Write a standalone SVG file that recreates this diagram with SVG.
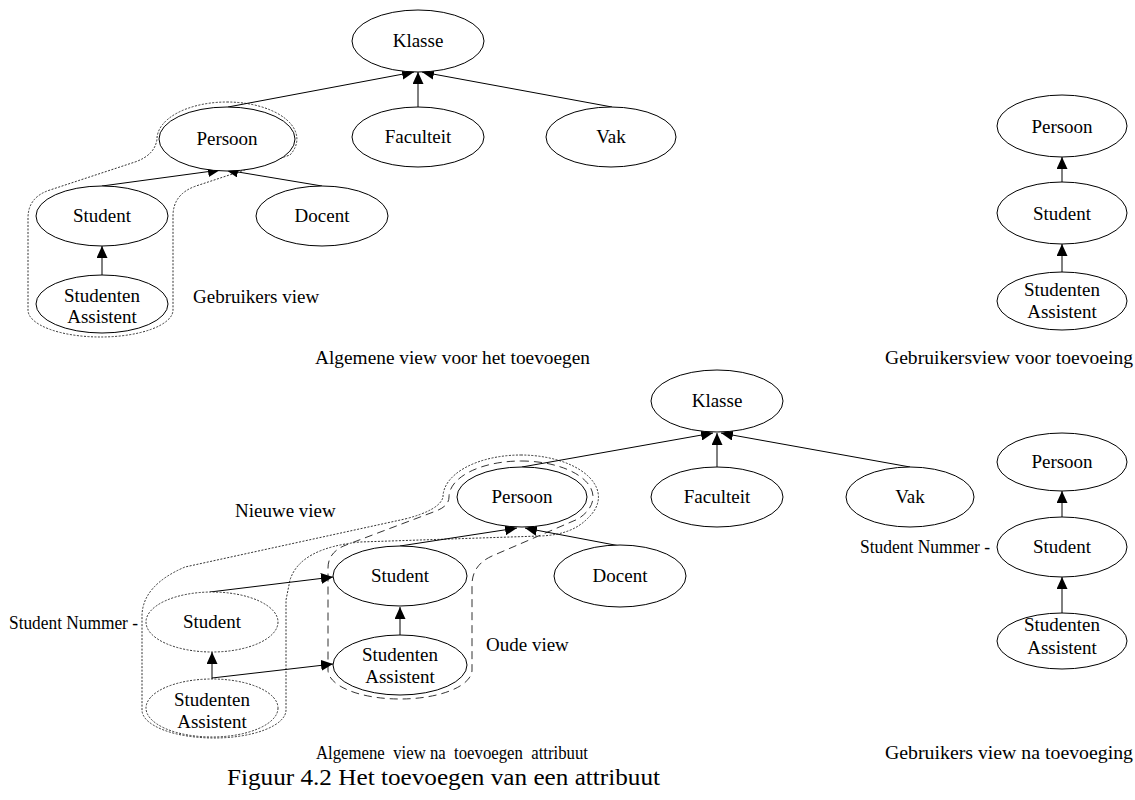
<svg xmlns="http://www.w3.org/2000/svg" width="1135" height="800" viewBox="0 0 1135 800">
  <style>
    .n ellipse { fill: #fff; stroke: #000; stroke-width: 1; }
    .n.dot ellipse { stroke-dasharray: 2 1.5; stroke: #333; }
    text { font-family: "Liberation Serif", "Times New Roman", serif; font-size: 19px; fill: #000; }
    .n text { text-anchor: middle; }
    .edge { stroke: #000; stroke-width: 1; fill: none; marker-end: url(#tri); }
    .dotline { fill: none; stroke: #333; stroke-width: 1; stroke-dasharray: 2 1.5; }
    .dashline { fill: none; stroke: #333; stroke-width: 1; stroke-dasharray: 8 5; }
    .cap { font-size: 19px; }
    .title { font-size: 24px; }
  </style>
  <defs>
    <marker id="tri" markerUnits="userSpaceOnUse" markerWidth="12" markerHeight="11" refX="12" refY="5.5" orient="auto">
      <path d="M0,0 L12,5.5 L0,11 Z" fill="#000"/>
    </marker>
  </defs>
  <rect width="1135" height="800" fill="#fff"/>

  <!-- view outlines (upper general view) -->
  <g id="outline-gebruikers-view">
    <path class="dotline" d="M227,102 A70,37 0 0 1 290,155 L196,186 Q173,194 173,216 L173,310 A72.5,27 0 0 1 28,310 L28,218 Q28,197 50,190 L135,162 Q155,155 157,139 A70,37 0 0 1 227,102 Z"/>
  </g>

  <!-- view outlines (lower general view) -->
  <g id="outline-nieuwe-view">
    <path class="dotline" d="M521,455 A78,42 0 0 1 588,518 Q572,535 540,536 L360,542 Q300,548 290,580 L286,600 L286,710 A72,28 0 0 1 142,710 L142,615 Q143,585 185,567 L405,519 Q440,510 443,497 A78,42 0 0 1 521,455 Z"/>
  </g>
  <g id="outline-oude-view">
    <path class="dashline" d="M521,461 A72,36 0 0 1 578,519 L492,556 Q472,565 472,585 L472,670 A72,29 0 0 1 328,670 L328,568 Q328,552 346,545 L436,511 Q449,506 449,497 A72,36 0 0 1 521,461 Z"/>
  </g>

  <!-- connectors -->
  <g id="connectors">
    <!-- upper general view -->
    <line class="edge" x1="228" y1="107" x2="414" y2="72"/>
    <line class="edge" x1="418" y1="107" x2="418" y2="72"/>
    <line class="edge" x1="612" y1="107" x2="422" y2="72"/>
    <line class="edge" x1="102" y1="186" x2="220" y2="170"/>
    <line class="edge" x1="322" y1="186" x2="226" y2="170"/>
    <line class="edge" x1="102" y1="275" x2="102" y2="246"/>
    <!-- upper user view -->
    <line class="edge" x1="1062" y1="182" x2="1062" y2="157"/>
    <line class="edge" x1="1062" y1="272" x2="1062" y2="244"/>
    <!-- lower general view -->
    <line class="edge" x1="522" y1="467" x2="713" y2="433"/>
    <line class="edge" x1="717" y1="467" x2="717" y2="433"/>
    <line class="edge" x1="910" y1="467" x2="721" y2="433"/>
    <line class="edge" x1="400" y1="546" x2="517" y2="528"/>
    <line class="edge" x1="620" y1="546" x2="525" y2="528"/>
    <line class="edge" x1="400" y1="635" x2="400" y2="607"/>
    <line class="edge" x1="210" y1="592" x2="333" y2="577"/>
    <line class="edge" x1="212" y1="678" x2="333" y2="664"/>
    <line class="edge" x1="212" y1="679" x2="212" y2="652"/>
    <!-- lower user view -->
    <line class="edge" x1="1062" y1="517" x2="1062" y2="491"/>
    <line class="edge" x1="1062" y1="613" x2="1062" y2="577"/>
  </g>

  <!-- upper general view nodes -->
  <g id="a-klasse" class="n"><ellipse cx="418" cy="41" rx="66" ry="31"/><text x="418" y="47">Klasse</text></g>
  <g id="a-persoon" class="n"><ellipse cx="227" cy="139" rx="68" ry="32"/><text x="227" y="145">Persoon</text></g>
  <g id="a-faculteit" class="n"><ellipse cx="418" cy="137" rx="66" ry="30"/><text x="418" y="143">Faculteit</text></g>
  <g id="a-vak" class="n"><ellipse cx="611" cy="137" rx="65" ry="30"/><text x="611" y="143">Vak</text></g>
  <g id="a-student" class="n"><ellipse cx="102" cy="216" rx="66" ry="30"/><text x="102" y="222">Student</text></g>
  <g id="a-docent" class="n"><ellipse cx="322" cy="216" rx="66" ry="30"/><text x="322" y="222">Docent</text></g>
  <g id="a-assistent" class="n"><ellipse cx="102" cy="304" rx="66" ry="29"/><text x="102" y="302">Studenten</text><text x="102" y="323">Assistent</text></g>

  <!-- upper user view nodes -->
  <g id="b-persoon" class="n"><ellipse cx="1062" cy="126" rx="65" ry="31"/><text x="1062" y="133">Persoon</text></g>
  <g id="b-student" class="n"><ellipse cx="1062" cy="213" rx="65" ry="31"/><text x="1062" y="220">Student</text></g>
  <g id="b-assistent" class="n"><ellipse cx="1062" cy="301" rx="65" ry="29"/><text x="1062" y="296">Studenten</text><text x="1062" y="318">Assistent</text></g>

  <!-- lower general view nodes -->
  <g id="c-klasse" class="n"><ellipse cx="717" cy="401" rx="66" ry="31"/><text x="717" y="407">Klasse</text></g>
  <g id="c-persoon" class="n"><ellipse cx="522" cy="497" rx="65" ry="30"/><text x="522" y="503">Persoon</text></g>
  <g id="c-faculteit" class="n"><ellipse cx="717" cy="497" rx="66" ry="30"/><text x="717" y="503">Faculteit</text></g>
  <g id="c-vak" class="n"><ellipse cx="910" cy="497" rx="64" ry="30"/><text x="910" y="503">Vak</text></g>
  <g id="c-docent" class="n"><ellipse cx="620" cy="576" rx="66" ry="31"/><text x="620" y="582">Docent</text></g>
  <g id="c-student" class="n"><ellipse cx="400" cy="576" rx="67" ry="30"/><text x="400" y="582">Student</text></g>
  <g id="c-assistent" class="n"><ellipse cx="400" cy="665" rx="67" ry="30"/><text x="400" y="661">Studenten</text><text x="400" y="683">Assistent</text></g>
  <g id="c-student-new" class="n dot"><ellipse cx="212" cy="622" rx="66" ry="30"/><text x="212" y="628">Student</text></g>
  <g id="c-assistent-new" class="n dot"><ellipse cx="212" cy="708" rx="66" ry="29"/><text x="212" y="706">Studenten</text><text x="212" y="728">Assistent</text></g>

  <!-- lower user view nodes -->
  <g id="d-persoon" class="n"><ellipse cx="1062" cy="462" rx="65" ry="29"/><text x="1062" y="468">Persoon</text></g>
  <g id="d-student" class="n"><ellipse cx="1062" cy="547" rx="65" ry="30"/><text x="1062" y="553">Student</text></g>
  <g id="d-assistent" class="n"><ellipse cx="1062" cy="641" rx="65" ry="28"/><text x="1062" y="631">Studenten</text><text x="1062" y="654">Assistent</text></g>

  <!-- labels -->
  <g id="labels">
    <text x="193" y="303">Gebruikers view</text>
    <text x="235" y="517">Nieuwe view</text>
    <text x="486" y="651">Oude view</text>
    <text x="9" y="629" font-size="17.5" textLength="129" lengthAdjust="spacingAndGlyphs">Student Nummer -</text>
    <text x="860" y="553" font-size="17.5" textLength="130" lengthAdjust="spacingAndGlyphs">Student Nummer -</text>
    <text class="cap" x="315" y="364" textLength="275" lengthAdjust="spacingAndGlyphs">Algemene view voor het toevoegen</text>
    <text class="cap" x="885" y="364" textLength="248" lengthAdjust="spacingAndGlyphs">Gebruikersview voor toevoeing</text>
    <text class="cap" x="316" y="759" font-size="17" textLength="272" lengthAdjust="spacingAndGlyphs" xml:space="preserve">Algemene  view na  toevoegen  attribuut</text>
    <text class="cap" x="885" y="759" font-size="17" textLength="248" lengthAdjust="spacingAndGlyphs">Gebruikers view na toevoeging</text>
    <text class="title" x="227" y="785" textLength="433" lengthAdjust="spacingAndGlyphs">Figuur 4.2 Het toevoegen van een attribuut</text>
  </g>
</svg>
